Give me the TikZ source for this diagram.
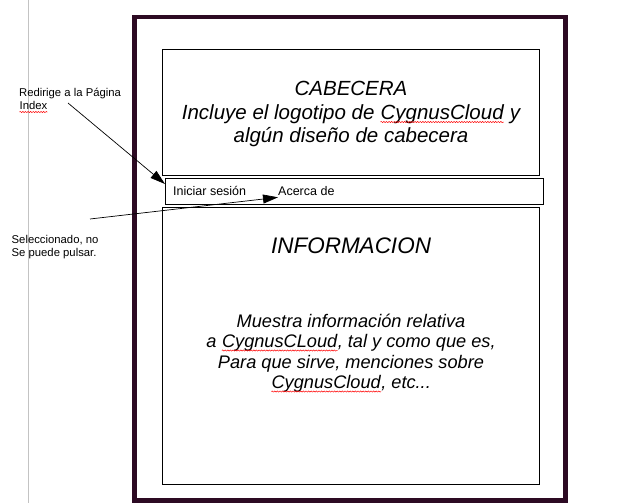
\documentclass[tikz,border=0pt]{standalone}
\usepackage{fontspec}
\usepackage{tikz}
\usetikzlibrary{arrows.meta,decorations.pathmorphing}
\setmainfont{Liberation Sans}

\definecolor{pageframe}{RGB}{45,10,35}
\definecolor{marginline}{RGB}{195,195,195}

% word with a red spell-check wave under it
\newcommand\redwave[1]{\tikz[baseline=(w.base)]{\node[inner sep=0pt,anchor=base] (w) {#1};
  \draw[red,line width=0.5pt,decorate,decoration={snake,amplitude=0.6pt,segment length=2.6pt}]
    ([yshift=-3pt]w.base west) -- ([yshift=-3pt]w.base east);}}

\begin{document}
\begin{tikzpicture}[x=1pt,y=-1pt,
    box/.style={draw,line width=0.9pt,anchor=north west,inner sep=0pt},
    bigtext/.style={align=center,inner sep=0pt,font=\itshape\fontsize{20.5}{23.5}\selectfont},
    infotext/.style={align=center,inner sep=0pt,font=\itshape\fontsize{18.2}{20.5}\selectfont},
    navtext/.style={anchor=base west,inner sep=0pt,font=\fontsize{12.5}{15}\selectfont},
    notetext/.style={anchor=north west,align=left,inner sep=0pt,font=\fontsize{11.3}{13}\selectfont},
    pointer/.style={line width=0.7pt,-{Triangle[length=15pt,width=9pt]}}]
      \useasboundingbox (0,0) rectangle (637,503);

      \draw [marginline,line width=0.8pt] (28,0) to (28,503);

      \node [draw=pageframe,line width=4.5pt,anchor=north west,inner sep=0pt,
             minimum width=431pt,minimum height=483pt] (page) at (132,15) {};

      \node [box,minimum width=377pt,minimum height=126pt] (header) at (162,49) {};
      \node [box,minimum width=378pt,minimum height=26pt] (nav) at (165,178) {};
      \node [box,minimum width=377pt,minimum height=277pt] (info) at (162,207) {};

      \node [bigtext] (headtxt) at (351,114)
        {CABECERA\\Incluye el logotipo de \redwave{CygnusCloud} y\\algún diseño de cabecera};

      \node [navtext] (login) at (173,195) {Iniciar sesión};
      \node [navtext] (about) at (278,195) {Acerca de};

      \node [anchor=base,inner sep=0pt,font=\itshape\fontsize{22.5}{26}\selectfont]
        (infotitle) at (351,253) {INFORMACION};
      \node [infotext] (infotxt) at (351,353)
        {Muestra información relativa\\a \redwave{CygnusCLoud}, tal y como que es,\\Para que sirve, menciones sobre\\\redwave{CygnusCloud}, etc...};

      \node [notetext] (redirnote) at (19,87.5) {Redirige a la Página\\\redwave{Index}};
      \node [notetext] (selnote) at (11.5,235.5) {Seleccionado, no\\Se puede pulsar.};

      \coordinate (redirfrom) at (68,103);
      \coordinate (selfrom) at (90,219);

      \draw [pointer] (redirfrom) to ([yshift=-6pt]nav.north west);
      \draw [pointer] (selfrom) to ([yshift=-2pt]about.south west);

    \end{tikzpicture}
\end{document}
